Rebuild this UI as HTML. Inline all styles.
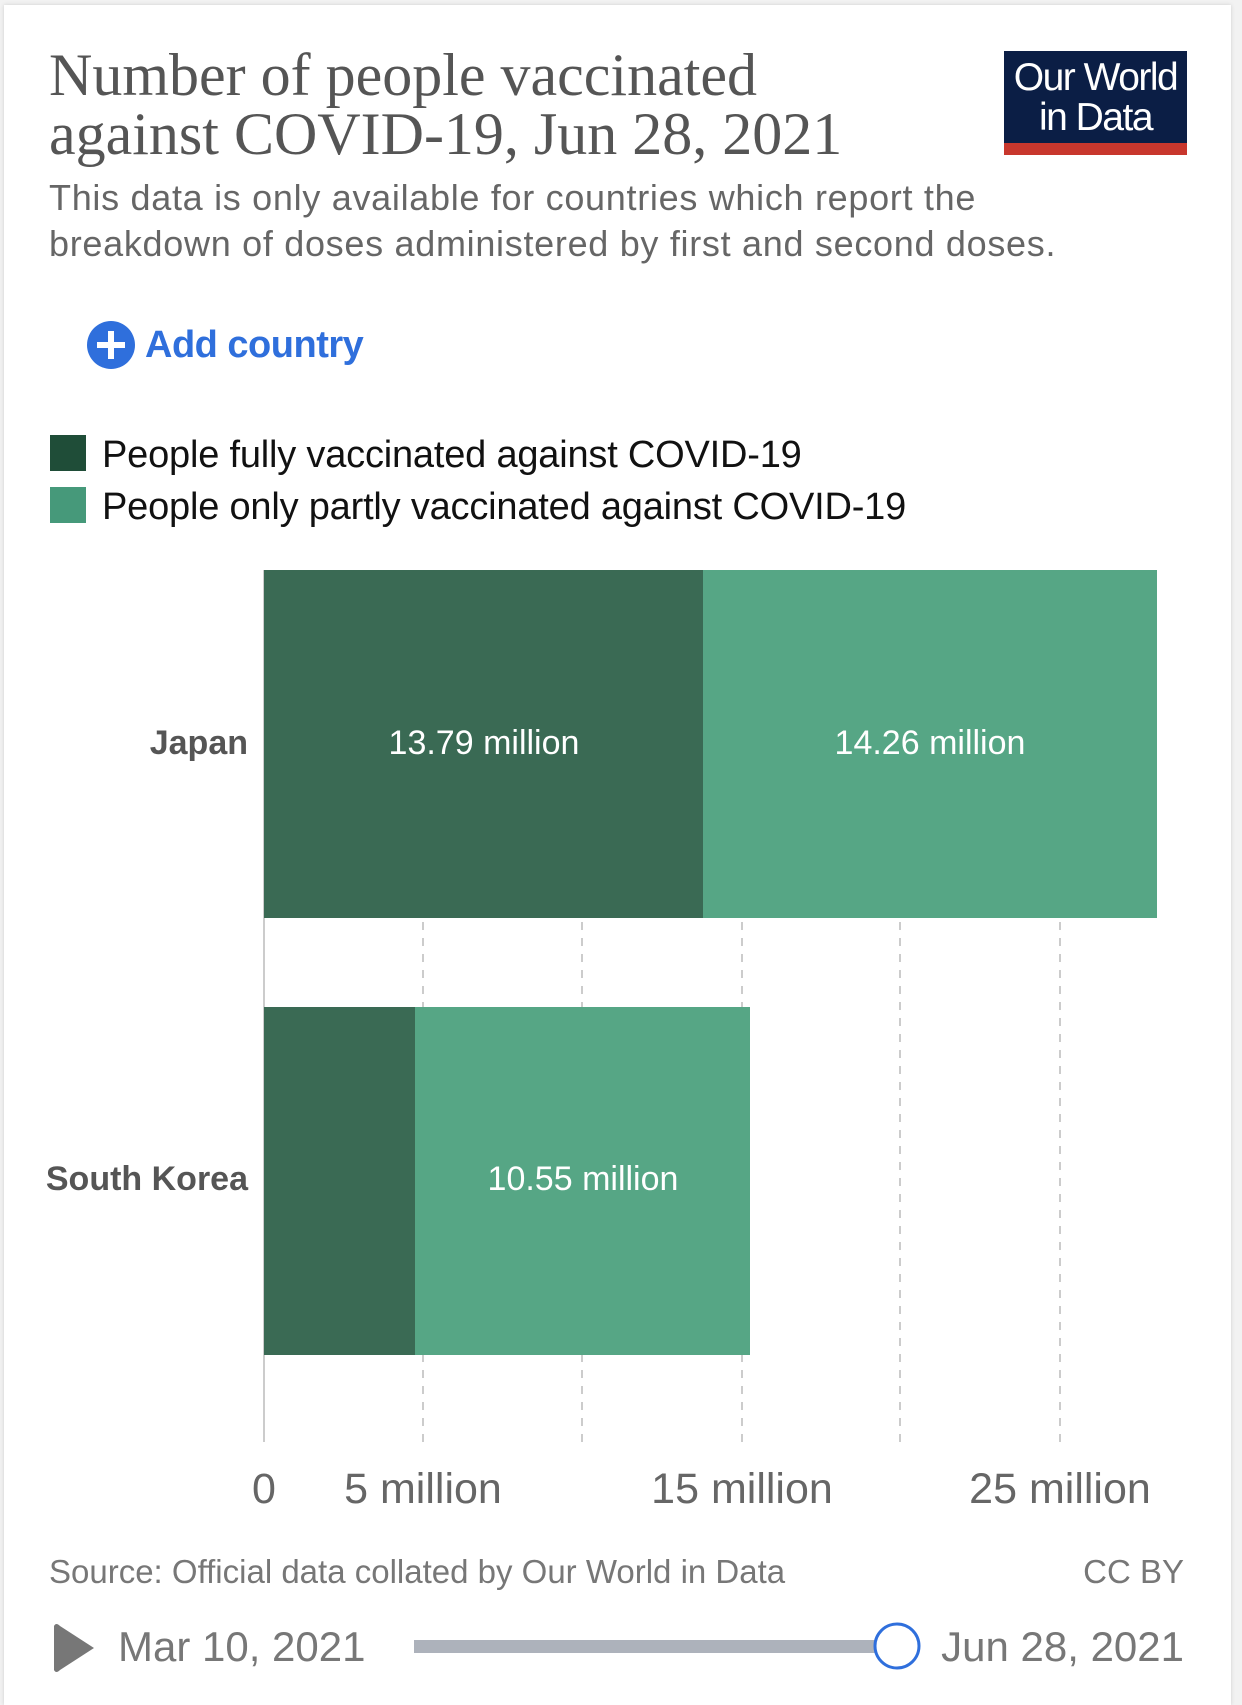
<!DOCTYPE html>
<html><head><meta charset="utf-8"><style>
body{margin:0;width:1242px;height:1690px;background:#f2f2f2;overflow:hidden;font-family:"Liberation Sans",sans-serif;}
.card{position:absolute;left:4px;top:5px;width:1227px;height:1700px;background:#fff;box-shadow:0 0 4px rgba(0,0,0,.15);}
.abs{position:absolute;white-space:nowrap;}
</style></head><body>
<div class="card"></div>
<div class="abs" style="left:49px;top:46px;font-family:'Liberation Serif',serif;font-size:60px;line-height:59px;color:#555;letter-spacing:0px">Number of people vaccinated<br>against COVID-19, Jun 28, 2021</div>
<div class="abs" style="left:1004px;top:51px;width:183px;height:104px;background:#0b1e45;"></div>
<div class="abs" style="left:1004px;top:143px;width:183px;height:12px;background:#c8372d;"></div>
<div class="abs" style="left:1004px;top:58px;width:183px;text-align:center;color:#fff;font-size:39px;line-height:40px;letter-spacing:-1.5px">Our World<br>in Data</div>
<div class="abs" style="left:49px;top:175px;font-size:36px;line-height:46px;color:#666;letter-spacing:0.7px">This data is only available for countries which report the<br>breakdown of doses administered by first and second doses.</div>
<svg class="abs" style="left:87px;top:321px" width="48" height="48"><circle cx="24" cy="24" r="24" fill="#2f6fdc"/><rect x="10" y="21" width="28" height="6" fill="#fff"/><rect x="21" y="10" width="6" height="28" fill="#fff"/></svg>
<div class="abs" style="left:145px;top:322px;font-size:38px;line-height:46px;color:#2f6fdc;font-weight:bold;letter-spacing:-0.5px">Add country</div>
<div class="abs" style="left:50px;top:435px;width:36px;height:36px;background:#1f4d38"></div>
<div class="abs" style="left:50px;top:487px;width:36px;height:36px;background:#46997a"></div>
<div class="abs" style="left:102px;top:433px;font-size:38px;line-height:44px;color:#111;letter-spacing:-0.2px">People fully vaccinated against COVID-19</div>
<div class="abs" style="left:102px;top:485px;font-size:38px;line-height:44px;color:#111;letter-spacing:-0.2px">People only partly vaccinated against COVID-19</div>
<svg class="abs" style="left:0;top:0" width="1242" height="1690">
<g stroke="#ccc" stroke-width="2" stroke-dasharray="8,8">
<line x1="423" y1="570" x2="423" y2="1442"/><line x1="582" y1="570" x2="582" y2="1442"/><line x1="742" y1="570" x2="742" y2="1442"/><line x1="900" y1="570" x2="900" y2="1442"/><line x1="1060" y1="570" x2="1060" y2="1442"/>
</g>
<line x1="264" y1="570" x2="264" y2="1442" stroke="#ccc" stroke-width="2"/>
<rect x="264" y="570" width="439" height="348" fill="#3a6a54"/>
<rect x="703" y="570" width="454" height="348" fill="#56a685"/>
<rect x="264" y="1007" width="151" height="348" fill="#3a6a54"/>
<rect x="415" y="1007" width="335" height="348" fill="#56a685"/>
<g font-family="Liberation Sans" font-size="34" fill="#fff" text-anchor="middle">
<text x="484" y="754">13.79 million</text><text x="930" y="754">14.26 million</text><text x="583" y="1190">10.55 million</text>
</g>
<g font-family="Liberation Sans" font-size="34" font-weight="bold" fill="#555" text-anchor="end">
<text x="248" y="754">Japan</text><text x="248" y="1190">South Korea</text>
</g>
<g font-family="Liberation Sans" font-size="43" fill="#666" text-anchor="middle">
<text x="264" y="1503">0</text><text x="423" y="1503">5 million</text><text x="742" y="1503">15 million</text><text x="1060" y="1503">25 million</text>
</g>
<text x="49" y="1583" font-family="Liberation Sans" font-size="33" fill="#777">Source: Official data collated by Our World in Data</text>
<text x="1184" y="1583" font-family="Liberation Sans" font-size="33" fill="#777" text-anchor="end">CC BY</text>
<path d="M54 1626 L54 1670 Q56 1674 60 1670 L94 1648 L60 1626 Q56 1622 54 1626Z" fill="#777"/>
<text x="118" y="1661" font-family="Liberation Sans" font-size="42" fill="#777">Mar 10, 2021</text>
<rect x="414" y="1640" width="482" height="13" fill="#adb2bb"/>
<circle cx="897" cy="1646" r="22" fill="#fff" stroke="#2f6fdc" stroke-width="3"/>
<text x="1184" y="1661" font-family="Liberation Sans" font-size="42" fill="#777" text-anchor="end">Jun 28, 2021</text>
</svg>
</body></html>
